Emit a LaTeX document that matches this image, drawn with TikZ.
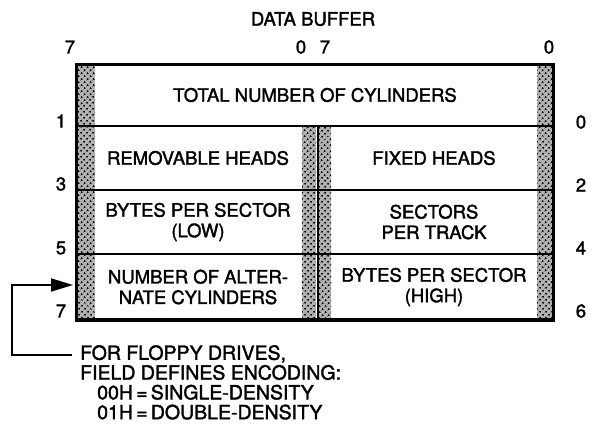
\documentclass[tikz,border=0pt]{standalone}
\usepackage{fontspec}
\setmainfont[FakeBold=1.8]{TeX Gyre Heros}
\usetikzlibrary{patterns.meta,arrows.meta}
\tikzset{
  lbl/.style={font=\fontsize{18.5}{20.5}\selectfont, inner sep=0pt, align=center},
  notetext/.style={font=\fontsize{19.5}{19.8}\selectfont, inner sep=0pt, align=left},
  num/.style={font=\fontsize{18.5}{20}\selectfont, inner sep=0pt},
  shade/.style={fill=black!30, postaction={pattern={Dots[distance=4pt, angle=45, radius=1.15pt]}}},
  thickline/.style={line width=3pt},
  rowline/.style={line width=1.6pt},
  conn/.style={line width=1.8pt, -{Triangle[length=22pt,width=13pt]}},
}
\begin{document}
\begin{tikzpicture}[x=1pt,y=-1pt]
\useasboundingbox (0,0) rectangle (594,423);
% shaded strips
\fill[white] (77,64) rectangle (553,320);
\path[shade] (77,64) rectangle (95,320);
\path[shade] (537,64) rectangle (553,320);
\path[shade] (302,126) rectangle (316,320);
\path[shade] (319,126) rectangle (331,320);
% row lines
\draw[rowline] (75,126) -- (555,126);
\draw[rowline] (75,190) -- (555,190);
\draw[rowline] (75,254) -- (555,254);
\draw[line width=2pt] (317.5,126) -- (317.5,320);
% outer frame
\draw[thickline] (76.5,64.5) rectangle (553.5,319.5);
\draw[line width=3.5pt] (75,320) -- (555,320);
% header
\node[num] (title) at (313,19) {DATA BUFFER};
\node[num] (t7a) at (70,47) {7};
\node[num] (t0a) at (301,47) {0};
\node[num] (t7b) at (325,47) {7};
\node[num] (t0b) at (549,47) {0};
% row numbers
\node[num] (l1) at (61,121) {1};
\node[num] (l3) at (61,184) {3};
\node[num] (l5) at (61,248) {5};
\node[num] (l7) at (61,311) {7};
\node[num] (r0) at (581,122) {0};
\node[num] (r2) at (581,185) {2};
\node[num] (r4) at (581,248) {4};
\node[num] (r6) at (581,311) {6};
% cell texts
\node[lbl] (c1) at (315,95) {TOTAL NUMBER OF CYLINDERS};
\node[lbl] (c2l) at (198,158) {REMOVABLE HEADS};
\node[lbl] (c2r) at (434,158) {FIXED HEADS};
\node[lbl] (c3l) at (198,222) {BYTES PER SECTOR\\(LOW)};
\node[lbl] (c3r) at (434,222) {SECTORS\\PER TRACK};
\node[lbl] (c4l) at (198,287) {NUMBER OF ALTER-\\NATE CYLINDERS};
\node[lbl] (c4r) at (434,287) {BYTES PER SECTOR\\(HIGH)};
% note
\node[notetext, anchor=north west] (note) at (80,345) {FOR FLOPPY DRIVES,\\FIELD DEFINES ENCODING:\\\hspace*{17pt}00H\,=\,SINGLE-DENSITY\\\hspace*{17pt}01H\,=\,DOUBLE-DENSITY};
\coordinate (target) at (73,285);
\coordinate (start) at ([xshift=-8pt]note.north west |- 0,355);
\draw[conn] (start) -- (12,355) -- (12,285) -- (target);
\end{tikzpicture}
\end{document}
